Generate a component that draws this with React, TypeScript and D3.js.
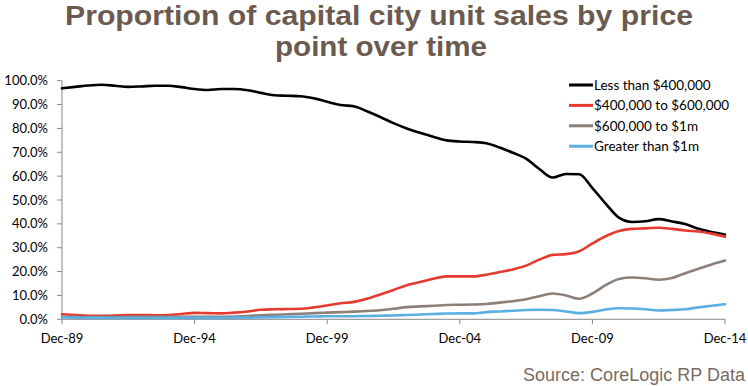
import React from "react";
import * as d3 from "d3";

const dates = [
  "1989-12", "1990-06", "1990-12", "1991-06", "1991-12", "1992-06", "1992-12", "1993-06", "1993-12", "1994-06",
  "1994-12", "1995-06", "1995-12", "1996-06", "1996-12", "1997-06", "1997-12", "1998-06", "1998-12", "1999-06",
  "1999-12", "2000-06", "2000-12", "2001-06", "2001-12", "2002-06", "2002-12", "2003-06", "2003-12", "2004-06",
  "2004-12", "2005-06", "2005-12", "2006-06", "2006-12", "2007-06", "2007-12", "2008-06", "2008-12", "2009-06",
  "2009-12", "2010-06", "2010-12", "2011-06", "2011-12", "2012-06", "2012-12", "2013-06", "2013-12", "2014-06",
  "2014-12",
];

const lessThan400k = [
  96.8, 97.4, 98.0, 98.3, 97.9, 97.4, 97.6, 97.9, 97.9, 97.3,
  96.5, 96.1, 96.5, 96.5, 96.0, 94.9, 93.9, 93.7, 93.5, 92.6,
  91.2, 89.8, 89.3, 87.2, 84.8, 82.2, 80.0, 78.2, 76.5, 75.0,
  74.5, 74.3, 73.8, 72.0, 69.8, 67.3, 63.0, 59.4, 60.9, 60.8,
  55.0, 48.5, 42.6, 40.8, 41.1, 42.0, 41.0, 39.9, 37.9, 36.6,
  35.5,
];

const from400kTo600k = [
  2.1, 1.8, 1.5, 1.5, 1.6, 1.8, 1.8, 1.7, 1.8, 2.2,
  2.7, 2.6, 2.5, 2.8, 3.3, 4.0, 4.2, 4.3, 4.4, 5.0,
  5.8, 6.7, 7.3, 8.6, 10.4, 12.3, 14.3, 15.6, 17.0, 18.0,
  18.0, 18.0, 18.7, 19.8, 20.9, 22.5, 25.0, 27.0, 27.3, 28.5,
  31.8, 34.8, 37.0, 37.9, 38.1, 38.4, 37.9, 37.2, 36.8, 35.9,
  34.6,
];

const from600kTo1m = [
  1.1, 1.0, 0.9, 0.9, 0.9, 1.0, 1.0, 1.0, 1.0, 1.0,
  1.1, 1.1, 1.1, 1.2, 1.4, 1.7, 1.9, 2.1, 2.3, 2.6,
  2.8, 3.0, 3.2, 3.5, 3.8, 4.4, 5.1, 5.4, 5.7, 6.0,
  6.1, 6.2, 6.4, 7.0, 7.6, 8.4, 9.7, 10.8, 10.0, 8.6,
  10.8, 14.3, 16.9, 17.5, 17.2, 16.6, 17.3, 19.3, 21.2, 23.0,
  24.6,
];

const greaterThan1m = [
  0.8, 0.7, 0.6, 0.6, 0.6, 0.6, 0.6, 0.6, 0.6, 0.6,
  0.6, 0.6, 0.6, 0.7, 0.7, 0.8, 0.9, 1.0, 1.1, 1.2,
  1.3, 1.3, 1.3, 1.4, 1.5, 1.6, 1.8, 2.0, 2.2, 2.4,
  2.5, 2.5, 3.0, 3.3, 3.6, 3.9, 4.0, 3.9, 3.3, 2.6,
  3.1, 4.1, 4.6, 4.5, 4.2, 3.7, 3.9, 4.2, 5.0, 5.7,
  6.3,
];

const seriesNames = [
  "Less than $400,000",
  "$400,000 to $600,000",
  "$600,000 to $1m",
  "Greater than $1m",
];
const seriesColors = ["#000000", "#e53a2f", "#8c8079", "#5bafe3"];
const seriesValues = [lessThan400k, from400kTo600k, from600kTo1m, greaterThan1m];

const yTicks = [0, 10, 20, 30, 40, 50, 60, 70, 80, 90, 100];
const xTickDates = ["1989-12", "1994-12", "1999-12", "2004-12", "2009-12", "2014-12"];
const xTickLabels = ["Dec-89", "Dec-94", "Dec-99", "Dec-04", "Dec-09", "Dec-14"];

const titleLines = ["Proportion of capital city unit sales by price", "point over time"];
const sourceText = "Source: CoreLogic RP Data";

const W = 748;
const H = 386;
const left = 62;
const right = 725;
const top = 80.7;
const bottom = 319.3;

const parse = d3.timeParse("%Y-%m");

export default function App() {
  const x = d3
    .scaleTime()
    .domain([parse(dates[0])!, parse(dates[dates.length - 1])!])
    .range([left, right]);
  const y = d3.scaleLinear().domain([0, 100]).range([bottom, top]);

  const line = d3
    .line<[Date, number]>()
    .x((d) => x(d[0]))
    .y((d) => y(d[1]))
    .curve(d3.curveMonotoneX);

  const axisColor = "#888888";
  const labelFont = "Lato, 'Open Sans', sans-serif";

  return (
    <svg
      width={W}
      height={H}
      style={{ position: "absolute", left: 0, top: 0, background: "#fff" }}
    >
      <rect x={0} y={0} width={W} height={H} fill="#fff" />
      {/* Title */}
      <g
        fontFamily="'Liberation Sans', Arial, sans-serif"
        fontWeight="bold"
        fontSize={27.5}
        fill="#6b5a4f"
      >
        <text x={65} y={25} textLength={628} lengthAdjust="spacingAndGlyphs">
          {titleLines[0]}
        </text>
        <text x={275} y={56} textLength={212} lengthAdjust="spacingAndGlyphs">
          {titleLines[1]}
        </text>
      </g>

      {/* Y axis */}
      <line x1={left} x2={left} y1={top} y2={bottom} stroke={axisColor} strokeWidth={1} />
      {yTicks.map((t) => (
        <g key={t}>
          <line x1={left - 5} x2={left} y1={y(t)} y2={y(t)} stroke={axisColor} strokeWidth={1} />
          <text
            x={48}
            y={y(t)}
            dy="0.35em"
            textAnchor="end"
            fontFamily={labelFont}
            fontSize={13}
            fill="#000"
          >
            {d3.format(".1f")(t) + "%"}
          </text>
        </g>
      ))}

      {/* X axis */}
      <line x1={left} x2={right} y1={bottom} y2={bottom} stroke={axisColor} strokeWidth={1} />
      {xTickDates.map((d, i) => {
        const px = x(parse(d)!);
        return (
          <g key={d}>
            <line x1={px} x2={px} y1={bottom} y2={bottom + 5} stroke={axisColor} strokeWidth={1} />
            <text
              x={px}
              y={343}
              textAnchor="middle"
              fontFamily={labelFont}
              fontSize={13}
              fill="#000"
            >
              {xTickLabels[i]}
            </text>
          </g>
        );
      })}

      {/* Lines */}
      {seriesValues.map((vals, si) => {
        const pts: [Date, number][] = vals.map((v, i) => [parse(dates[i])!, v]);
        return (
          <path
            key={si}
            d={line(pts) || ""}
            fill="none"
            stroke={seriesColors[si]}
            strokeWidth={2.6}
            strokeLinejoin="round"
            strokeLinecap="round"
          />
        );
      })}

      {/* Legend */}
      {seriesNames.map((name, i) => {
        const ly = 85 + i * 20.4;
        return (
          <g key={name}>
            <line x1={569} x2={593} y1={ly} y2={ly} stroke={seriesColors[i]} strokeWidth={3} />
            <text
              x={594}
              y={ly}
              dy="0.35em"
              fontFamily={labelFont}
              fontSize={13.5}
              fill="#000"
            >
              {name}
            </text>
          </g>
        );
      })}

      {/* Source */}
      <text
        x={523}
        y={381}
        fontFamily="'Liberation Sans', Arial, sans-serif"
        fontSize={18}
        fill="#7a6b62"
        textLength={222}
        lengthAdjust="spacingAndGlyphs"
      >
        {sourceText}
      </text>
    </svg>
  );
}
